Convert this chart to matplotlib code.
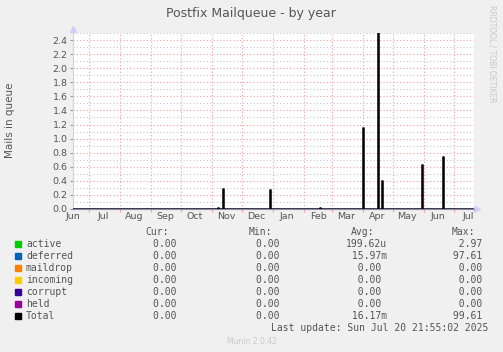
import matplotlib
matplotlib.use("Agg")
import matplotlib.pyplot as plt
import matplotlib.dates as mdates
import pandas as pd
import numpy as np

# time span of the munin yearly graph
start_date = "2024-06-15"
end_date = "2025-07-20"

# days where the queue was not empty (everything else is 0)
spike_dates = ["2024-11-07", "2024-11-12", "2024-12-29", "2025-02-17", "2025-04-01",
               "2025-04-16", "2025-04-20", "2025-05-30", "2025-06-20"]
total_vals = [0.02, 0.28, 0.27, 0.02, 1.15, 2.6, 0.40, 0.62, 0.74]
deferred_vals = [0.02, 0.27, 0.26, 0.02, 1.12, 2.55, 0.38, 0.60, 0.72]

# legend table
names = ["active", "deferred", "maildrop", "incoming", "corrupt", "held", "Total"]
colors = ["#00CC00", "#0066B3", "#FF8000", "#FFCC00", "#330099", "#990099", "#000000"]
cur = ["0.00 "] * 7
mins = ["0.00 "] * 7
avgs = ["199.62u", " 15.97m", "  0.00 ", "  0.00 ", "  0.00 ", "  0.00 ", " 16.17m"]
maxs = ["  2.97 ", " 97.61 ", "  0.00 ", "  0.00 ", "  0.00 ", "  0.00 ", " 99.61 "]

days = pd.date_range(start_date, end_date, freq="D")
total = pd.Series(0.0, index=days)
deferred = pd.Series(0.0, index=days)
total[pd.to_datetime(spike_dates)] = total_vals
deferred[pd.to_datetime(spike_dates)] = deferred_vals

W, H = 503, 352
bg = "#F0F0F0"
txt = "#555555"
fig = plt.figure(figsize=(W / 100, H / 100), dpi=100, facecolor=bg)
ax = fig.add_axes([73 / W, 1 - 209 / H, 401 / W, 176 / H])
ax.set_facecolor("white")

x = mdates.date2num(days.to_pydatetime())
ax.fill_between(x, 0, deferred.values, step="mid", color="#1A4F7A", lw=0, zorder=2)
ax.step(x, total.values, where="mid", color="black", lw=1.1, zorder=3)

ax.set_xlim(mdates.date2num(pd.Timestamp(start_date)),
            mdates.date2num(pd.Timestamp("2025-07-20 21:55")))
ax.set_ylim(0, 2.5)

# grid: red dotted for major, grey dotted for minor
ax.set_yticks(np.arange(0, 2.41, 0.2))
ax.set_yticks(np.arange(0.1, 2.51, 0.2), minor=True)
ax.set_yticklabels(["%.1f" % v for v in np.arange(0, 2.41, 0.2)])
ax.xaxis.set_major_locator(mdates.MonthLocator(bymonthday=1))
ax.xaxis.set_major_formatter(plt.NullFormatter())
ax.xaxis.set_minor_locator(mdates.MonthLocator(bymonthday=15))
ax.xaxis.set_minor_formatter(mdates.DateFormatter("%b"))
ax.grid(True, which="major", color="#F4A0A0", ls=(0, (1, 2)), lw=0.8)
ax.grid(True, which="minor", axis="y", color="#C8C8C8", ls=(0, (1, 2)), lw=0.8)
ax.set_axisbelow(True)

ax.tick_params(axis="x", which="major", length=2, color="#F4A0A0", width=0.8)
ax.tick_params(axis="x", which="minor", length=0, pad=2, labelsize=6.8, labelcolor=txt)
ax.tick_params(axis="y", which="major", length=2, color="#999999", width=0.8,
               labelsize=6.8, labelcolor=txt, pad=2)
ax.tick_params(axis="y", which="minor", length=0)

for s in ["top", "right"]:
    ax.spines[s].set_visible(False)
ax.spines["left"].set_color("#D0D0F4")
ax.spines["bottom"].set_color("#8888B0")
ax.spines["bottom"].set_zorder(5)
ax.spines["left"].set_linewidth(0.8)
ax.spines["bottom"].set_linewidth(0.8)
ax.plot([0], [1.02], marker="^", ms=4, color="#D0D0F8", transform=ax.transAxes, clip_on=False)
ax.plot([1.008], [0], marker=">", ms=4, color="#D0D0F8", transform=ax.transAxes, clip_on=False)

fig.text(10 / W, 1 - 120 / H, "Mails in queue", rotation=90, ha="center", va="center",
         fontsize=7.5, color=txt)
fig.text(251 / W, 1 - 14 / H, "Postfix Mailqueue - by year", ha="center", va="center",
         fontsize=9, color=txt)
fig.text(492 / W, 1 - 5 / H, "RRDTOOL / TOBI OETIKER", rotation=270, ha="center", va="top",
         fontsize=5.5, color="#C8C8C8")

# legend block
mono = "DejaVu Sans Mono"
fs = 7
def put(px, py, s, ha="left", color=txt, size=fs, family=mono):
    fig.text(px / W, 1 - py / H, s, ha=ha, va="center", fontsize=size, color=color, family=family)

put(169, 232, "Cur:", "right")
put(272, 232, "Min:", "right")
put(374, 232, "Avg:", "right")
put(475, 232, "Max:", "right")
for i in range(len(names)):
    y = 244.3 + 12 * i
    fig.patches.append(plt.Rectangle((14.5 / W, 1 - (y + 3) / H), 6 / W, 6 / H,
                                     transform=fig.transFigure, color=colors[i]))
    put(26, y, names[i])
    put(182, y, cur[i], "right")
    put(285, y, mins[i], "right")
    put(387, y, avgs[i], "right")
    put(488, y, maxs[i], "right")
put(488, 328.3, "Last update: Sun Jul 20 21:55:02 2025", "right")
put(251.5, 341.7, "Munin 2.0.42", "center", color="#C8C8C8", size=5.5, family="DejaVu Sans")

fig.savefig("out.png", dpi=100, facecolor=bg)
